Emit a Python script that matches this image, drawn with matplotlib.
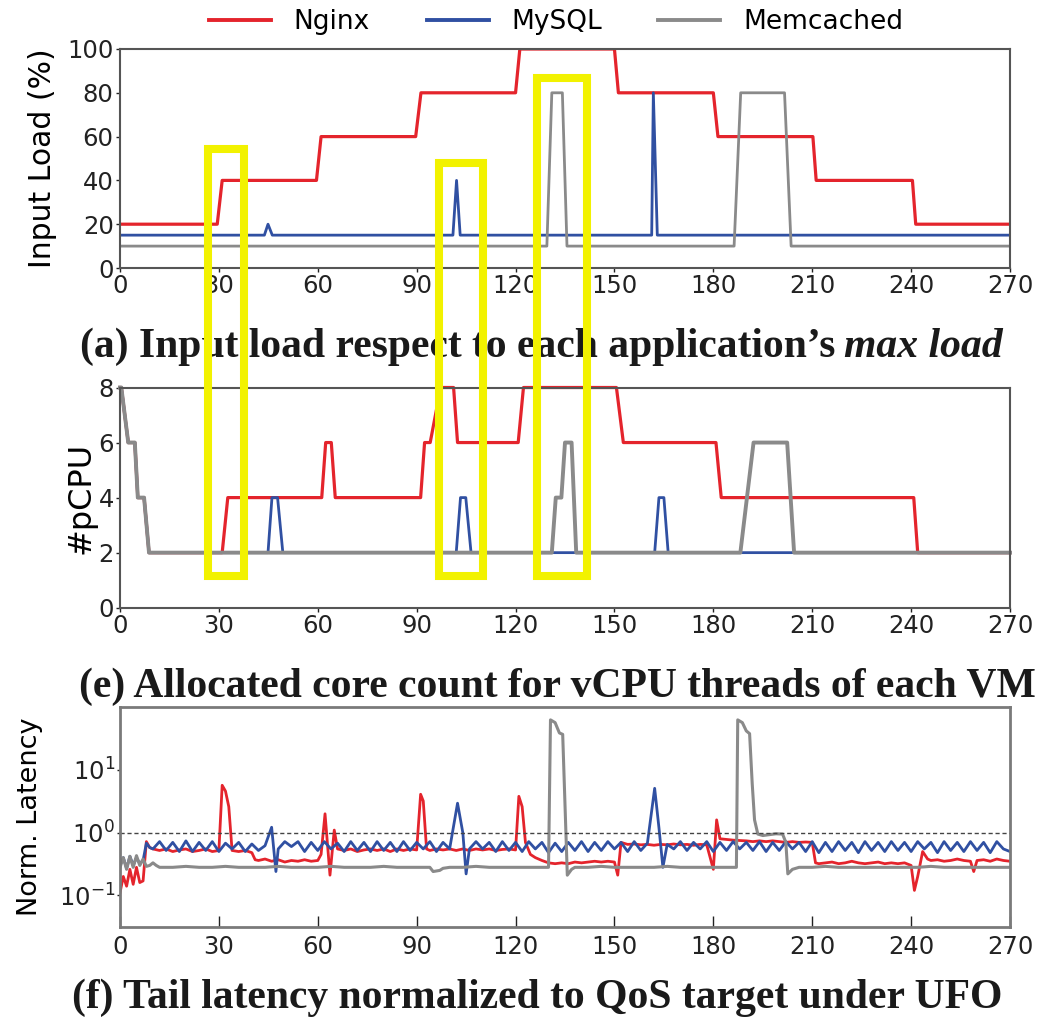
import matplotlib
matplotlib.use("Agg")
import matplotlib.pyplot as plt
from matplotlib.patches import Rectangle
from matplotlib.lines import Line2D

plt.rcParams['font.family'] = ['DejaVu Sans']

# ---------------- data ----------------
apps = ["Nginx", "MySQL", "Memcached"]
colors = {"Nginx": "#e4242c", "MySQL": "#3050a2", "Memcached": "#8a8a8a"}

x_ticks = [0, 30, 60, 90, 120, 150, 180, 210, 240, 270]

# (a) input load (%)
nginx_load_t = [0, 29.5, 31, 59.6, 61, 89.7, 91.3, 120, 121.3, 150, 151.2, 180, 181.4, 210.2, 211.2, 240.4, 241.4, 270]
nginx_load = [20, 20, 40, 40, 60, 60, 80, 80, 100, 100, 80, 80, 60, 60, 40, 40, 20, 20]
mysql_load_t = [0, 43.8, 44.9, 46.2, 101, 102.1, 103.2, 161.3, 161.8, 163, 270]
mysql_load = [15, 15, 20, 15, 15, 40, 15, 15, 80, 15, 15]
memc_load_t = [0, 129.5, 131, 134.2, 135.6, 186.3, 188.3, 201.6, 203.6, 270]
memc_load = [10, 10, 80, 80, 10, 10, 80, 80, 10, 10]
load_ticks = [0, 20, 40, 60, 80, 100]

# (e) allocated cores
nginx_cpu_t = [0, 0.4, 2.5, 4.5, 5.4, 7.3, 8.8, 31, 32.7, 61.2, 62.4, 64.1, 65.3, 91.2, 92.4, 94.1, 97.3,
               101.2, 102.4, 120.8, 122.4, 150.6, 152.7, 180.8, 182.4, 240.8, 242, 270]
nginx_cpu = [8, 8, 6, 6, 4, 4, 2, 2, 4, 4, 6, 6, 4, 4, 6, 6, 8, 8, 6, 6, 8, 8, 6, 6, 4, 4, 2, 2]
mysql_cpu_t = [0, 0.4, 2.5, 4.5, 5.4, 7.3, 8.8, 44.9, 46.1, 47.8, 49.4, 102, 103.3, 104.9, 106.5,
               162.2, 163.5, 165, 166.3, 270]
mysql_cpu = [8, 8, 6, 6, 4, 4, 2, 2, 4, 4, 2, 2, 4, 4, 2, 2, 4, 4, 2, 2]
memc_cpu_t = [0, 0.4, 2.5, 4.5, 5.4, 7.3, 8.8, 131, 132.2, 133.9, 135, 137, 138.4, 188.2, 192.2, 202.4, 204.5, 270]
memc_cpu = [8, 8, 6, 6, 4, 4, 2, 2, 4, 4, 6, 6, 2, 2, 6, 6, 2, 2]
cpu_ticks = [0, 2, 4, 6, 8]

# (f) normalized tail latency
nginx_lat_t = [0, 1, 2, 3, 4, 5, 6, 7, 8, 9, 10, 12, 14, 16, 18, 20, 22, 24, 26, 28, 30, 31, 32, 33, 34, 36, 38,
               40, 41, 42, 44, 46, 48, 50, 52, 54, 56, 58, 60, 61, 62.2, 63.7, 65, 66, 68, 70, 72, 74, 76, 78,
               80, 82, 84, 86, 88, 90, 91.2, 92, 93, 94, 96, 98, 100, 102, 104, 106, 108, 110, 112, 114, 116,
               118, 120, 121, 122, 123, 124.5, 126, 128, 130, 132, 134, 136, 138, 140, 142, 144, 146, 148, 150,
               151, 152, 154, 156, 158, 160, 162, 164, 166, 168, 170, 172, 174, 176, 178, 180, 181, 182, 184,
               186, 188, 190, 192, 194, 196, 198, 200, 202, 204, 206, 208, 210, 211, 212, 214, 216, 218, 220,
               222, 224, 226, 228, 230, 232, 234, 236, 238, 240, 241, 242, 243.5, 245, 246, 248, 250, 252, 254,
               256, 258, 259, 260, 262, 264, 266, 268, 270]
nginx_lat = [0.11, 0.20, 0.14, 0.26, 0.15, 0.28, 0.16, 0.17, 0.72, 0.58, 0.55, 0.52, 0.55, 0.50, 0.53, 0.55,
             0.50, 0.52, 0.55, 0.50, 0.52, 5.7, 4.6, 2.6, 0.52, 0.50, 0.52,
             0.48, 0.37, 0.36, 0.38, 0.35, 0.37, 0.34, 0.36, 0.35, 0.37, 0.35, 0.36, 0.45, 2.0, 0.21, 1.1, 0.55,
             0.52, 0.55, 0.50, 0.53, 0.55, 0.52,
             0.55, 0.50, 0.55, 0.52, 0.55, 0.53, 4.1, 3.2, 0.55, 0.52, 0.55, 0.53, 0.55, 0.52, 0.55, 0.52, 0.55,
             0.53, 0.55, 0.52, 0.54,
             0.55, 0.53, 3.8, 2.6, 0.70, 0.45, 0.40, 0.36, 0.33, 0.32, 0.33, 0.32, 0.34, 0.33, 0.34, 0.35, 0.34,
             0.35, 0.34,
             0.21, 0.70, 0.65, 0.66, 0.64, 0.65, 0.63, 0.65, 0.64, 0.66, 0.64, 0.65, 0.63, 0.65, 0.64, 0.26, 1.6,
             0.80, 0.78,
             0.76, 0.75, 0.74, 0.72, 0.74, 0.72, 0.74, 0.72, 0.70, 0.72, 0.70, 0.71, 0.70, 0.33, 0.32, 0.33,
             0.34, 0.32, 0.33,
             0.35, 0.33, 0.32, 0.33, 0.34, 0.32, 0.33, 0.32, 0.33, 0.30, 0.12, 0.20, 0.50, 0.38, 0.36, 0.37,
             0.35, 0.36, 0.38,
             0.36, 0.35, 0.24, 0.36, 0.37, 0.35, 0.38, 0.36, 0.35]

mysql_lat_t = [0, 1, 2, 3, 4, 5, 6, 7, 8, 9, 10, 12, 14, 16, 18, 20, 22, 24, 26, 28, 30, 32, 34, 36, 38, 40, 42,
               44, 46, 47.3, 48, 50, 52, 54, 56, 58, 60, 62, 64, 66, 68, 70, 72, 74, 76, 78, 80, 82, 84, 86, 88,
               90, 92, 94, 96, 98, 100, 102.4, 104, 105, 106, 108, 110, 112, 114, 116, 118, 120, 122, 124, 126,
               128, 130, 132, 134, 136, 138, 140, 142, 144, 146, 148, 150, 152, 154, 156, 158, 160, 162.2, 163.5,
               164.7, 166, 168, 170, 172, 174, 176, 178, 180, 182, 184, 186, 188, 190, 192, 194, 196, 198, 200,
               202, 204, 206, 208, 210, 212, 214, 216, 218, 220, 222, 224, 226, 228, 230, 232, 234, 236, 238,
               240, 242, 244, 246, 248, 250, 252, 254, 256, 258, 260, 262, 264, 266, 268, 270]
mysql_lat = [0.30, 0.40, 0.27, 0.42, 0.30, 0.40, 0.32, 0.36, 0.68, 0.58, 0.55, 0.72, 0.52, 0.70, 0.50, 0.74,
             0.50, 0.70, 0.52, 0.72, 0.50, 0.68, 0.55, 0.70, 0.50, 0.66, 0.52,
             0.62, 1.22, 0.24, 0.55, 0.72, 0.60, 0.72, 0.50, 0.70, 0.52, 0.72, 0.55, 0.68, 0.50, 0.72, 0.52,
             0.70, 0.50, 0.72, 0.52, 0.70, 0.50, 0.72, 0.52,
             0.70, 0.55, 0.72, 0.50, 0.70, 0.55, 2.95, 1.0, 0.22, 0.55, 0.72, 0.55, 0.70, 0.50, 0.72, 0.52,
             0.70, 0.50, 0.72, 0.55,
             0.70, 0.48, 0.68, 0.50, 0.70, 0.52, 0.72, 0.50, 0.70, 0.52, 0.72, 0.55, 0.70, 0.50, 0.72, 0.52,
             0.68, 5.1, 1.2,
             0.28, 0.65, 0.55, 0.72, 0.52, 0.70, 0.55, 0.72, 0.50, 0.70, 0.52, 0.72, 0.55, 0.70, 0.52, 0.72,
             0.50, 0.70, 0.52,
             0.72, 0.55, 0.70, 0.50, 0.72, 0.48, 0.70, 0.50, 0.72, 0.52, 0.70, 0.48, 0.72, 0.52, 0.70, 0.50,
             0.72, 0.52, 0.70,
             0.50, 0.72, 0.55, 0.70, 0.48, 0.72, 0.52, 0.70, 0.50, 0.72, 0.52, 0.70, 0.48, 0.72, 0.55, 0.50]

memc_lat_t = [0, 1, 2, 3, 4, 5, 6, 7, 8, 9, 10, 11, 12,
              16, 20, 24, 28, 32, 36, 40, 44, 48, 52, 56, 60, 64, 68, 72, 76, 80, 84, 88, 92, 94,
              95, 97, 98, 100, 104, 108, 112, 116, 120, 124, 128, 130,
              130.6, 132, 133.3, 134.3, 135.7, 137, 138,
              142, 146, 150, 154, 158, 162, 166, 170, 174, 178, 182, 186, 187,
              187.4, 188.8, 190, 191, 191.8, 192.5, 193.5, 195, 197, 199, 201, 202, 202.6, 204, 206,
              210, 214, 218, 222, 226, 230, 234, 238, 242, 246, 250, 254, 258, 262, 266, 270]
memc_lat = [0.28, 0.40, 0.26, 0.42, 0.28, 0.43, 0.30, 0.38, 0.29, 0.30, 0.33, 0.30, 0.28,
            0.28, 0.29, 0.28, 0.28, 0.29, 0.28, 0.28, 0.28, 0.29, 0.28, 0.28, 0.28, 0.29, 0.28, 0.28, 0.28,
            0.29, 0.28, 0.28, 0.28, 0.28,
            0.24, 0.25, 0.27, 0.28, 0.28, 0.29, 0.28, 0.28, 0.28, 0.28, 0.28, 0.28,
            63, 57, 39, 37, 0.21, 0.26, 0.28,
            0.28, 0.29, 0.28, 0.28, 0.28, 0.28, 0.29, 0.28, 0.28, 0.28, 0.28, 0.28, 0.28,
            63, 57, 42, 38, 6, 1.6, 0.95, 0.90, 0.93, 0.96, 0.95, 0.70, 0.22, 0.26, 0.28,
            0.28, 0.29, 0.28, 0.28, 0.28, 0.28, 0.28, 0.28, 0.28, 0.29, 0.28, 0.28, 0.28, 0.28, 0.28, 0.28]

qos_target = 1.0

captions = ["(a) Input load respect to each application\u2019s", "max load",
            "(e) Allocated core count for vCPU threads of each VM",
            "(f) Tail latency normalized to QoS target under UFO"]

# ---------------- figure ----------------
W, H = 1056, 1024
fig = plt.figure(figsize=(W / 100, H / 100), dpi=100)

def fx(px):
    return px / W

def fy(py):
    return 1 - py / H

left, right = 120, 1010
ax_a = fig.add_axes([fx(left), fy(268), fx(right - left), (268 - 49) / H])
ax_e = fig.add_axes([fx(left), fy(607.7), fx(right - left), (607.7 - 387.5) / H])
ax_f = fig.add_axes([fx(left), fy(926.7), fx(right - left), (926.7 - 707.3) / H])

TICK_FS = 17.5

def style_axes(ax, spine_color="#555555", lw=1.5):
    for s in ax.spines.values():
        s.set_color(spine_color)
        s.set_linewidth(lw)
    ax.set_xlim(0, 270)
    ax.set_xticks(x_ticks)
    ax.tick_params(labelsize=TICK_FS, colors="#222222", length=3, width=1, pad=1.5, direction="out")

# (a)
ax_a.plot(nginx_load_t, nginx_load, color=colors["Nginx"], lw=2.3, label="Nginx")
ax_a.plot(mysql_load_t, mysql_load, color=colors["MySQL"], lw=2.0, label="MySQL")
ax_a.plot(memc_load_t, memc_load, color=colors["Memcached"], lw=2.0, label="Memcached")
style_axes(ax_a)
ax_a.set_ylim(0, 100)
ax_a.set_yticks(load_ticks)
ax_a.set_ylabel("Input Load (%)", fontsize=21.5)
ax_a.yaxis.set_label_coords(-0.071, 0.5)

# (e)
ax_e.plot(nginx_cpu_t, nginx_cpu, color=colors["Nginx"], lw=2.3, clip_on=False)
ax_e.plot(mysql_cpu_t, mysql_cpu, color=colors["MySQL"], lw=2.0, clip_on=False)
ax_e.plot(memc_cpu_t, memc_cpu, color=colors["Memcached"], lw=2.8, clip_on=False)
style_axes(ax_e)
ax_e.set_ylim(0, 8)
ax_e.set_yticks(cpu_ticks)
ax_e.set_ylabel("#pCPU", fontsize=23)
ax_e.yaxis.set_label_coords(-0.026, 0.5)

# (f)
ax_f.plot(nginx_lat_t, nginx_lat, color=colors["Nginx"], lw=2.0)
ax_f.plot(mysql_lat_t, mysql_lat, color=colors["MySQL"], lw=2.0)
ax_f.plot(memc_lat_t, memc_lat, color=colors["Memcached"], lw=2.2)
ax_f.axhline(qos_target, color="#444444", lw=1.0, ls=(0, (3, 2)))
style_axes(ax_f, spine_color="#7a7a7a", lw=2.0)
ax_f.set_yscale("log")
ax_f.set_ylim(10 ** -1.5, 10 ** 2.0)
ax_f.set_yticks([0.1, 1, 10])
ax_f.yaxis.set_minor_locator(matplotlib.ticker.NullLocator())
ax_f.tick_params(axis="x", direction="in", length=8, pad=6)
ax_f.tick_params(axis="y", length=2)
ax_f.set_ylabel("Norm. Latency", fontsize=19.5)
ax_f.yaxis.set_label_coords(-0.087, 0.5)

# legend
handles = [Line2D([], [], color=colors[a], lw=2.8) for a in apps]
fig.legend(handles, apps, loc="center", bbox_to_anchor=(fx(556), fy(22)), ncol=3, frameon=False,
           fontsize=19, handlelength=2.35, handletextpad=0.85, columnspacing=2.15)

# captions
cap_kw = dict(family="Liberation Serif", fontweight="bold", fontsize=30, color="#1a1a1a", va="baseline")
t1 = fig.text(fx(80), fy(357), captions[0], **cap_kw)
fig.canvas.draw()
r = fig.canvas.get_renderer()
bb = t1.get_window_extent(renderer=r)
fig.text((bb.x1 + 9) / W, fy(357), captions[1], style="italic", **cap_kw)
fig.text(fx(79), fy(697), captions[2], **cap_kw)
fig.text(fx(72), fy(1008), captions[3], **cap_kw)

# yellow highlight boxes (figure pixel coordinates)
boxes = [(208, 148.5, 244, 575.5), (438.5, 162.5, 482.5, 575.5), (536.5, 77.5, 587, 575.5)]
for x0, y0, x1, y1 in boxes:
    fig.patches.append(Rectangle((fx(x0), fy(y1)), fx(x1 - x0), (y1 - y0) / H, transform=fig.transFigure,
                                 fill=False, edgecolor="#f2f200", lw=5.8, zorder=10))

fig.savefig("out.png", dpi=100)
